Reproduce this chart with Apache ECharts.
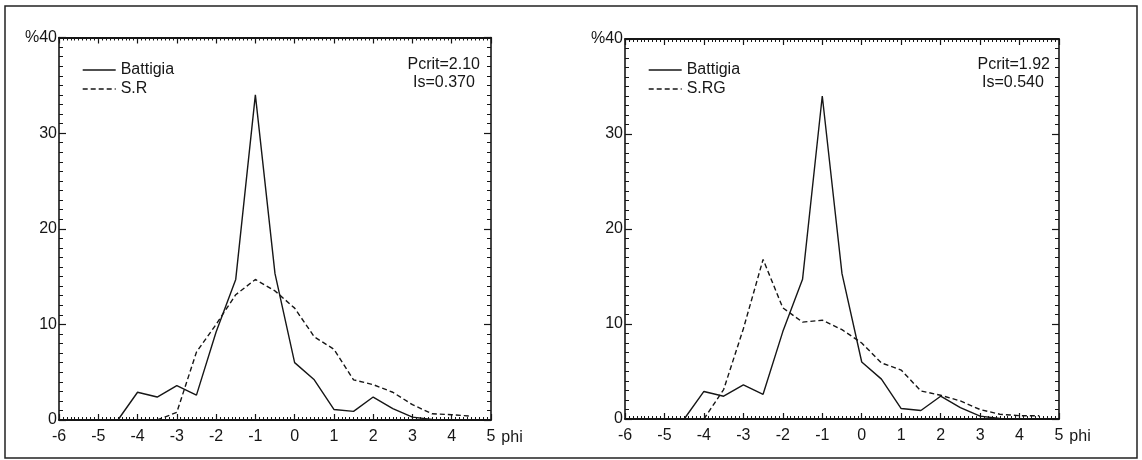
<!DOCTYPE html>
<html>
<head>
<meta charset="utf-8">
<script src="https://cdn.jsdelivr.net/npm/echarts@6/dist/echarts.min.js"></script>
<style>
  html, body { margin: 0; padding: 0; background: #ffffff; }
  #chart { width: 1142px; height: 460px; }
</style>
</head>
<body>
<div id="chart"></div>
<script>
// classi granulometriche (phi)
var phiBins = [-4.5, -4, -3.5, -3, -2.5, -2, -1.5, -1, -0.5, 0, 0.5, 1, 1.5, 2, 2.5, 3, 3.5, 4, 4.5];
// percentuali
var battigia = [0, 2.9, 2.4, 3.6, 2.6, 9.2, 14.7, 34, 15.3, 6.0, 4.2, 1.1, 0.9, 2.4, 1.2, 0.3, 0.05, null, null];
var sR = [null, null, 0, 0.8, 7.1, 10.0, 13.1, 14.7, 13.5, 11.7, 8.7, 7.4, 4.2, 3.7, 2.9, 1.6, 0.65, 0.55, 0.4];
var sRG = [null, 0, 3.1, 9.5, 16.8, 11.7, 10.2, 10.4, 9.4, 8.0, 5.9, 5.15, 2.95, 2.5, 1.9, 1.0, 0.5, 0.35, 0.35];
var xTicks = [-6, 5];
var yTicks = [0, 40];
var panelNotes = [["Pcrit=2.10", "Is=0.370"], ["Pcrit=1.92", "Is=0.540"]];
var legendNames = [["Battigia", "S.R"], ["Battigia", "S.RG"]];

var ink = "#161616";
var labelFont = "Liberation Sans, Arial, sans-serif";

function pairs(ys) {
  var out = [];
  for (var i = 0; i < phiBins.length; i++) {
    out.push([phiBins[i], ys[i]]);
  }
  return out;
}

function xAxisFor(grid, pos) {
  return {
    type: "value",
    gridIndex: grid,
    position: pos,
    min: xTicks[0],
    max: xTicks[1],
    interval: 1,
    splitLine: { show: false },
    axisLine: { show: true, onZero: false, lineStyle: { color: ink, width: 1.8 } },
    axisTick: { show: true, inside: true, length: 6, lineStyle: { color: ink, width: 1.2 } },
    minorTick: { show: true, splitNumber: 10, length: 3, lineStyle: { color: ink, width: 1 } },
    axisLabel: {
      show: pos === "bottom",
      margin: 9,
      fontSize: 16,
      fontFamily: labelFont,
      color: ink
    },
    name: pos === "bottom" ? "phi" : "",
    nameLocation: "end",
    nameGap: 9,
    nameTextStyle: {
      fontSize: 16,
      fontFamily: labelFont,
      color: ink,
      verticalAlign: "top",
      padding: [10, 0, 0, 0]
    }
  };
}

function yAxisFor(grid, pos) {
  return {
    type: "value",
    gridIndex: grid,
    position: pos,
    min: yTicks[0],
    max: yTicks[1],
    interval: 10,
    splitLine: { show: false },
    axisLine: { show: true, onZero: false, lineStyle: { color: ink, width: 1.6 } },
    axisTick: { show: true, inside: true, length: 7, lineStyle: { color: ink, width: 1.2 } },
    minorTick: { show: true, splitNumber: 10, length: 4, lineStyle: { color: ink, width: 1 } },
    axisLabel: {
      show: pos === "left",
      margin: 2,
      fontSize: 16,
      fontFamily: labelFont,
      color: ink,
      formatter: function (v) {
        return v === 40 ? "%40" : String(v);
      }
    }
  };
}

function lineSeries(name, grid, ys, dashed) {
  return {
    name: name,
    type: "line",
    xAxisIndex: grid * 2,
    yAxisIndex: grid * 2,
    data: pairs(ys),
    symbol: "none",
    connectNulls: false,
    lineStyle: { color: ink, width: 1.4, type: dashed ? [5, 3] : "solid" },
    itemStyle: { color: ink },
    silent: true
  };
}

function legendFor(i, left) {
  return {
    data: legendNames[i],
    orient: "vertical",
    left: left,
    top: 57,
    itemWidth: 33,
    itemHeight: 14,
    itemGap: 3,
    selectedMode: false,
    itemStyle: { opacity: 0 },
    lineStyle: { width: 1.4 },
    textStyle: { fontSize: 16, fontFamily: labelFont, color: ink }
  };
}

var myChart = echarts.init(document.getElementById("chart"));
var chartOptions = {
  backgroundColor: "#ffffff",
  animation: false,
  grid: [
    { left: 59, top: 37.5, width: 432, height: 382.5 },
    { left: 625, top: 39, width: 434, height: 380 }
  ],
  xAxis: [
    xAxisFor(0, "bottom"), xAxisFor(0, "top"),
    xAxisFor(1, "bottom"), xAxisFor(1, "top")
  ],
  yAxis: [
    yAxisFor(0, "left"), yAxisFor(0, "right"),
    yAxisFor(1, "left"), yAxisFor(1, "right")
  ],
  legend: [legendFor(0, 77), legendFor(1, 643)],
  graphic: [
    {
      type: "rect",
      shape: { x: 5, y: 6, width: 1132, height: 452 },
      style: { fill: "none", stroke: "#222", lineWidth: 1.5 },
      silent: true
    },
    {
      type: "text", right: 1142 - 480, top: 57,
      style: { text: panelNotes[0][0], fontSize: 16, fontFamily: labelFont, fill: ink }
    },
    {
      type: "text", left: 413, top: 75,
      style: { text: panelNotes[0][1], fontSize: 16, fontFamily: labelFont, fill: ink }
    },
    {
      type: "text", right: 1142 - 1050, top: 57,
      style: { text: panelNotes[1][0], fontSize: 16, fontFamily: labelFont, fill: ink }
    },
    {
      type: "text", left: 982, top: 75,
      style: { text: panelNotes[1][1], fontSize: 16, fontFamily: labelFont, fill: ink }
    }
  ],
  series: [
    lineSeries("Battigia", 0, battigia, false),
    lineSeries("S.R", 0, sR, true),
    lineSeries("Battigia", 1, battigia, false),
    lineSeries("S.RG", 1, sRG, true)
  ]
};
myChart.setOption(chartOptions);
window.onresize = function () {
  myChart.resize();
};
</script>
</body>
</html>
